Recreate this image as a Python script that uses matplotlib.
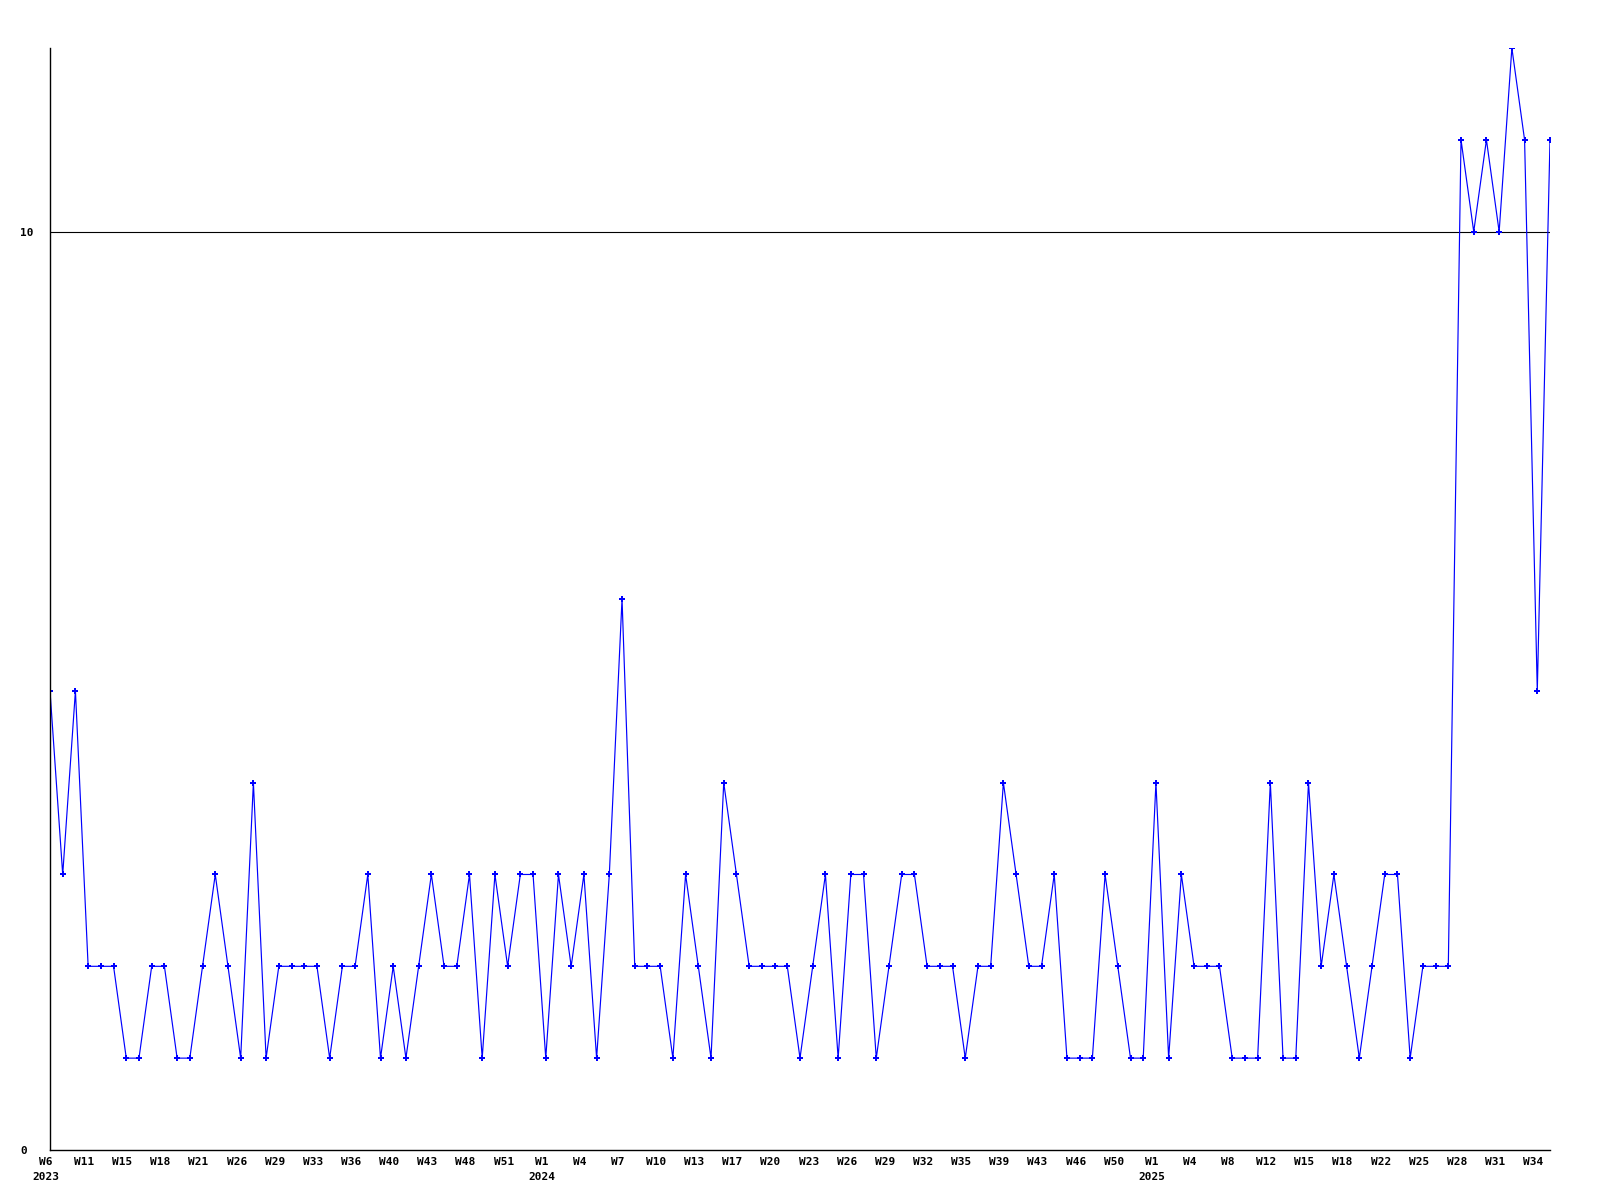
import matplotlib
matplotlib.use("Agg")
import matplotlib.pyplot as plt
from matplotlib.transforms import ScaledTranslation

# weekly values, 2023 W6 .. 2025 W35
values = [5, 3, 5, 2, 2, 2, 1, 1, 2, 2,
          1, 1, 2, 3, 2, 1, 4, 1, 2, 2,
          2, 2, 1, 2, 2, 3, 1, 2, 1, 2,
          3, 2, 2, 3, 1, 3, 2, 3, 3, 1,
          3, 2, 3, 1, 3, 6, 2, 2, 2, 1,
          3, 2, 1, 4, 3, 2, 2, 2, 2, 1,
          2, 3, 1, 3, 3, 1, 2, 3, 3, 2,
          2, 2, 1, 2, 2, 4, 3, 2, 2, 3,
          1, 1, 1, 3, 2, 1, 1, 4, 1, 3,
          2, 2, 2, 1, 1, 1, 4, 1, 1, 4,
          2, 3, 2, 1, 2, 3, 3, 1, 2, 2,
          2, 11, 10, 11, 10, 12, 11, 5, 11]

tick_labels = ["W6\n2023", "W11", "W15", "W18", "W21", "W26", "W29", "W33", "W36", "W40",
               "W43", "W48", "W51", "W1\n2024", "W4", "W7", "W10", "W13", "W17", "W20",
               "W23", "W26", "W29", "W32", "W35", "W39", "W43", "W46", "W50", "W1\n2025",
               "W4", "W8", "W12", "W15", "W18", "W22", "W25", "W28", "W31", "W34"]

threshold = 10
ytick_values = [0, 10]

fig = plt.figure(figsize=(16, 12), dpi=100)
ax = fig.add_axes([0.03125, 0.0417, 0.9375, 0.9183])

x = list(range(len(values)))
ax.plot(x, values, color="#0000ff", linewidth=0.85, marker="P",
        markersize=4, markeredgewidth=0, markerfacecolor="#0000ff")
ax.axhline(threshold, color="black", linewidth=0.8, zorder=1)

ax.set_xlim(0, len(values) - 1)
ax.set_ylim(0, 12)

for s in ["top", "right"]:
    ax.spines[s].set_visible(False)
for s in ["left", "bottom"]:
    ax.spines[s].set_linewidth(1.0)
    ax.spines[s].set_color("black")

ax.set_xticks(x[::3][:len(tick_labels)])
ax.set_xticklabels(tick_labels, family="DejaVu Sans Mono", fontweight="bold",
                   fontsize=8, linespacing=1.6)
ax.tick_params(axis="x", length=0, pad=5)
shift = ScaledTranslation(-4 / 100, 0, fig.dpi_scale_trans)
for lbl in ax.get_xticklabels():
    lbl.set_transform(lbl.get_transform() + shift)

ax.set_yticks(ytick_values)
ax.set_yticklabels([str(v) for v in ytick_values], family="DejaVu Sans Mono",
                   fontweight="bold", fontsize=8)
ax.tick_params(axis="y", length=0, pad=21.6)
for lbl in ax.get_yticklabels():
    lbl.set_horizontalalignment("left")

fig.savefig("out.png", dpi=100, facecolor="white")
